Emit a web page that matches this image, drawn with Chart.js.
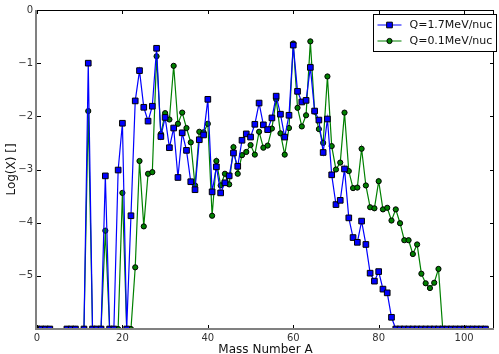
<!DOCTYPE html>
<html>
<head>
<meta charset="utf-8">
<script src="https://cdn.jsdelivr.net/npm/chart.js@4/dist/chart.umd.min.js"></script>
<style>
  html, body { margin: 0; padding: 0; background: #fff; }
  canvas { display: block; }
</style>
</head>
<body>
<canvas id="chIsotopes" width="499" height="354"></canvas>
<script>
/* isotope yields, log scale, two Q values */

// mass numbers A
var massNumbers = [
  0, 1, 2, 3, 4, 5, 6, 7, 8, 9,
  10, 11, 12, 13, 14, 15, 16, 17, 18, 19,
  20, 21, 22, 23, 24, 25, 26, 27, 28, 29,
  30, 31, 32, 33, 34, 35, 36, 37, 38, 39,
  40, 41, 42, 43, 44, 45, 46, 47, 48, 49,
  50, 51, 52, 53, 54, 55, 56, 57, 58, 59,
  60, 61, 62, 63, 64, 65, 66, 67, 68, 69,
  70, 71, 72, 73, 74, 75, 76, 77, 78, 79,
  80, 81, 82, 83, 84, 85, 86, 87, 88, 89,
  90, 91, 92, 93, 94, 95, 96, 97, 98, 99,
  100, 101, 102, 103, 104, 105
];

// Q=1.7MeV/nuc
var logHigh = [
  -6, -6, -6, -6, null, null, null, -6, -6, -6,
  null, -6, -1.00, -6, -6, -6, -3.12, -6, -6, -3.01,
  -2.13, -6, -3.87, -1.71, -1.14, -1.83, -2.09, -1.81, -0.72, -2.38,
  -2.02, -2.59, -2.22, -3.15, -2.31, -2.64, -3.23, -3.38, -2.44, -2.35,
  -1.68, -3.42, -2.95, -3.44, -3.25, -3.12, -2.69, -2.94, -2.45, -2.33,
  -2.39, -2.15, -1.75, -2.16, -2.25, -2.03, -1.62, -1.96, -2.39, -1.98,
  -0.66, -1.53, -1.73, -1.70, -1.08, -1.90, -2.07, -2.68, -2.05, -3.10,
  -3.66, -3.58, -2.99, -3.91, -4.28, -4.37, -3.97, -4.41, -4.95, -5.10,
  -4.92, -5.25, -5.32, -5.78, -6, -6, -6, -6, -6, -6,
  -6, -6, -6, -6, -6, -6, -6, -6, -6, -6,
  -6, -6, -6, -6, -6, -6
];

// Q=0.1MeV/nuc
var logLow = [
  -6, -6, -6, -6, null, null, null, -6, -6, -6,
  null, -6, -1.90, -6, -6, -6, -4.15, -6, -6, -6,
  -3.44, -6, -6, -4.84, -2.84, -4.07, -3.08, -3.05, -0.87, -2.33,
  -1.94, -2.06, -1.05, -2.14, -1.93, -2.22, -2.49, -3.30, -2.29, -2.30,
  -2.14, -3.87, -2.84, -3.30, -3.08, -3.28, -2.58, -3.08, -2.73, -2.67,
  -2.54, -2.72, -2.29, -2.59, -2.55, -2.23, -1.68, -2.32, -2.72, -2.22,
  -0.63, -1.84, -2.19, -1.98, -0.59, -1.91, -2.24, -2.50, -1.25, -2.56,
  -3.00, -2.87, -1.93, -3.03, -3.35, -3.34, -2.61, -3.30, -3.71, -3.73,
  -3.22, -3.75, -3.72, -3.96, -3.75, -4.01, -4.33, -4.33, -4.59, -4.41,
  -4.96, -5.14, -5.23, -5.13, -4.87, -6, -6, -6, -6, -6,
  -6, -6, -6, -6, -6, -6
];

var seriesNames = ['Q=1.7MeV/nuc', 'Q=0.1MeV/nuc'];
var xTicks = [0, 20, 40, 60, 80, 100];
var yTicks = [0, -1, -2, -3, -4, -5, -6];

var font = 'DejaVu Sans';

function points(vals) {
  return massNumbers.map(function (a, i) { return { x: a, y: vals[i] }; });
}

function seg(ctx, x1, y1, x2, y2) {
  ctx.beginPath();
  ctx.moveTo(x1, y1);
  ctx.lineTo(x2, y2);
  ctx.stroke();
}

// matplotlib-ish frame: inward ticks + spines, and the boxed legend
var framePlugin = {
  id: 'frame',
  afterDatasetsDraw: function (chart) {
    var ctx = chart.ctx, a = chart.chartArea;
    var sx = chart.scales.x, sy = chart.scales.y;
    ctx.save();
    ctx.strokeStyle = '#000';
    ctx.lineWidth = 1;
    xTicks.forEach(function (v) {
      var px = Math.round(sx.getPixelForValue(v)) + 0.5;
      seg(ctx, px, a.bottom, px, a.bottom - 4);
      seg(ctx, px, a.top, px, a.top + 4);
    });
    yTicks.forEach(function (v) {
      var py = Math.round(sy.getPixelForValue(v)) + 0.5;
      seg(ctx, a.left, py, a.left + 4, py);
      seg(ctx, a.right, py, a.right - 4, py);
    });
    // spines
    ctx.strokeStyle = '#000';
    ctx.lineWidth = 1;
    seg(ctx, a.left, a.top + 0.5, a.right, a.top + 0.5);
    seg(ctx, a.right - 0.5, a.top, a.right - 0.5, a.bottom);
    ctx.strokeStyle = '#808080';
    ctx.lineWidth = 2;
    seg(ctx, a.left - 1, a.top, a.left - 1, a.bottom + 1);
    seg(ctx, a.left - 1, a.bottom, a.right, a.bottom);
    ctx.restore();
  },
  afterDraw: function (chart) {
    var ctx = chart.ctx;
    var bx = 373.5, by = 14.5, bw = 123, bh = 37;
    ctx.save();
    ctx.fillStyle = '#fff';
    ctx.fillRect(bx, by, bw, bh);
    ctx.strokeStyle = '#000';
    ctx.lineWidth = 1;
    ctx.strokeRect(bx, by, bw, bh);
    chart.data.datasets.forEach(function (ds, i) {
      var y = by + 10.5 + i * 16;
      ctx.strokeStyle = ds.borderColor;
      ctx.lineWidth = 1;
      seg(ctx, bx + 4, y, bx + 28, y);
      ctx.fillStyle = ds.pointBackgroundColor;
      ctx.strokeStyle = '#000';
      ctx.beginPath();
      if (ds.pointStyle === 'rect') {
        var h = ds.pointRadius * Math.SQRT1_2;
        ctx.rect(bx + 16 - h, y - h, 2 * h, 2 * h);
      } else {
        ctx.arc(bx + 16, y, ds.pointRadius, 0, Math.PI * 2);
      }
      ctx.fill();
      ctx.stroke();
      ctx.fillStyle = '#111';
      ctx.font = '11px "' + font + '"';
      ctx.textBaseline = 'middle';
      ctx.fillText(ds.label, bx + 36, y);
    });
    ctx.restore();
  }
};

var chIsotopes = document.getElementById('chIsotopes');
if (chIsotopes) {
  new Chart(chIsotopes, {
    type: 'line',
    data: {
      datasets: [
        {
          label: seriesNames[0],
          data: points(logHigh),
          borderColor: '#0000ff',
          borderWidth: 1.2,
          pointStyle: 'rect',
          pointRadius: 4,
          pointBackgroundColor: '#0000ff',
          pointBorderColor: '#000',
          pointBorderWidth: 1,
          spanGaps: true,
          tension: 0,
          clip: 0
        },
        {
          label: seriesNames[1],
          data: points(logLow),
          borderColor: '#008000',
          borderWidth: 1.2,
          pointStyle: 'circle',
          pointRadius: 2.6,
          pointBackgroundColor: '#008000',
          pointBorderColor: '#000',
          pointBorderWidth: 1,
          spanGaps: true,
          tension: 0,
          clip: 0
        }
      ]
    },
    options: {
      responsive: false,
      animation: false,
      layout: { padding: { top: 9, right: 2, left: 0, bottom: 0 } },
      plugins: { legend: { display: false }, tooltip: { enabled: false } },
      scales: {
        x: {
          type: 'linear',
          min: 0,
          max: 107,
          afterBuildTicks: function (s) { s.ticks = xTicks.map(function (v) { return { value: v }; }); },
          afterFit: function (s) { s.height = 25; },
          grid: { display: false, drawTicks: false },
          border: { display: false },
          ticks: { padding: 3, maxRotation: 0, color: '#333', font: { family: font, size: 10 } },
          title: {
            display: true, text: 'Mass Number A', color: '#111',
            font: { family: font, size: 12, lineHeight: 1 }, padding: { top: 0, bottom: -2 }
          }
        },
        y: {
          min: -6,
          max: 0,
          afterBuildTicks: function (s) { s.ticks = yTicks.map(function (v) { return { value: v }; }); },
          afterFit: function (s) { s.width = 37; },
          grid: { display: false, drawTicks: false },
          border: { display: false },
          ticks: {
            padding: 4, color: '#333', font: { family: font, size: 10 },
            callback: function (v) { return v === 0 ? '0' : (v === -6 ? '' : '\u2212' + Math.abs(v)); }
          },
          title: {
            display: true, text: 'Log(X) []', color: '#111',
            font: { family: font, size: 12, lineHeight: 1.2 }, padding: { top: 5, bottom: 0 }
          }
        }
      }
    },
    plugins: [framePlugin]
  });
}
</script>
</body>
</html>
